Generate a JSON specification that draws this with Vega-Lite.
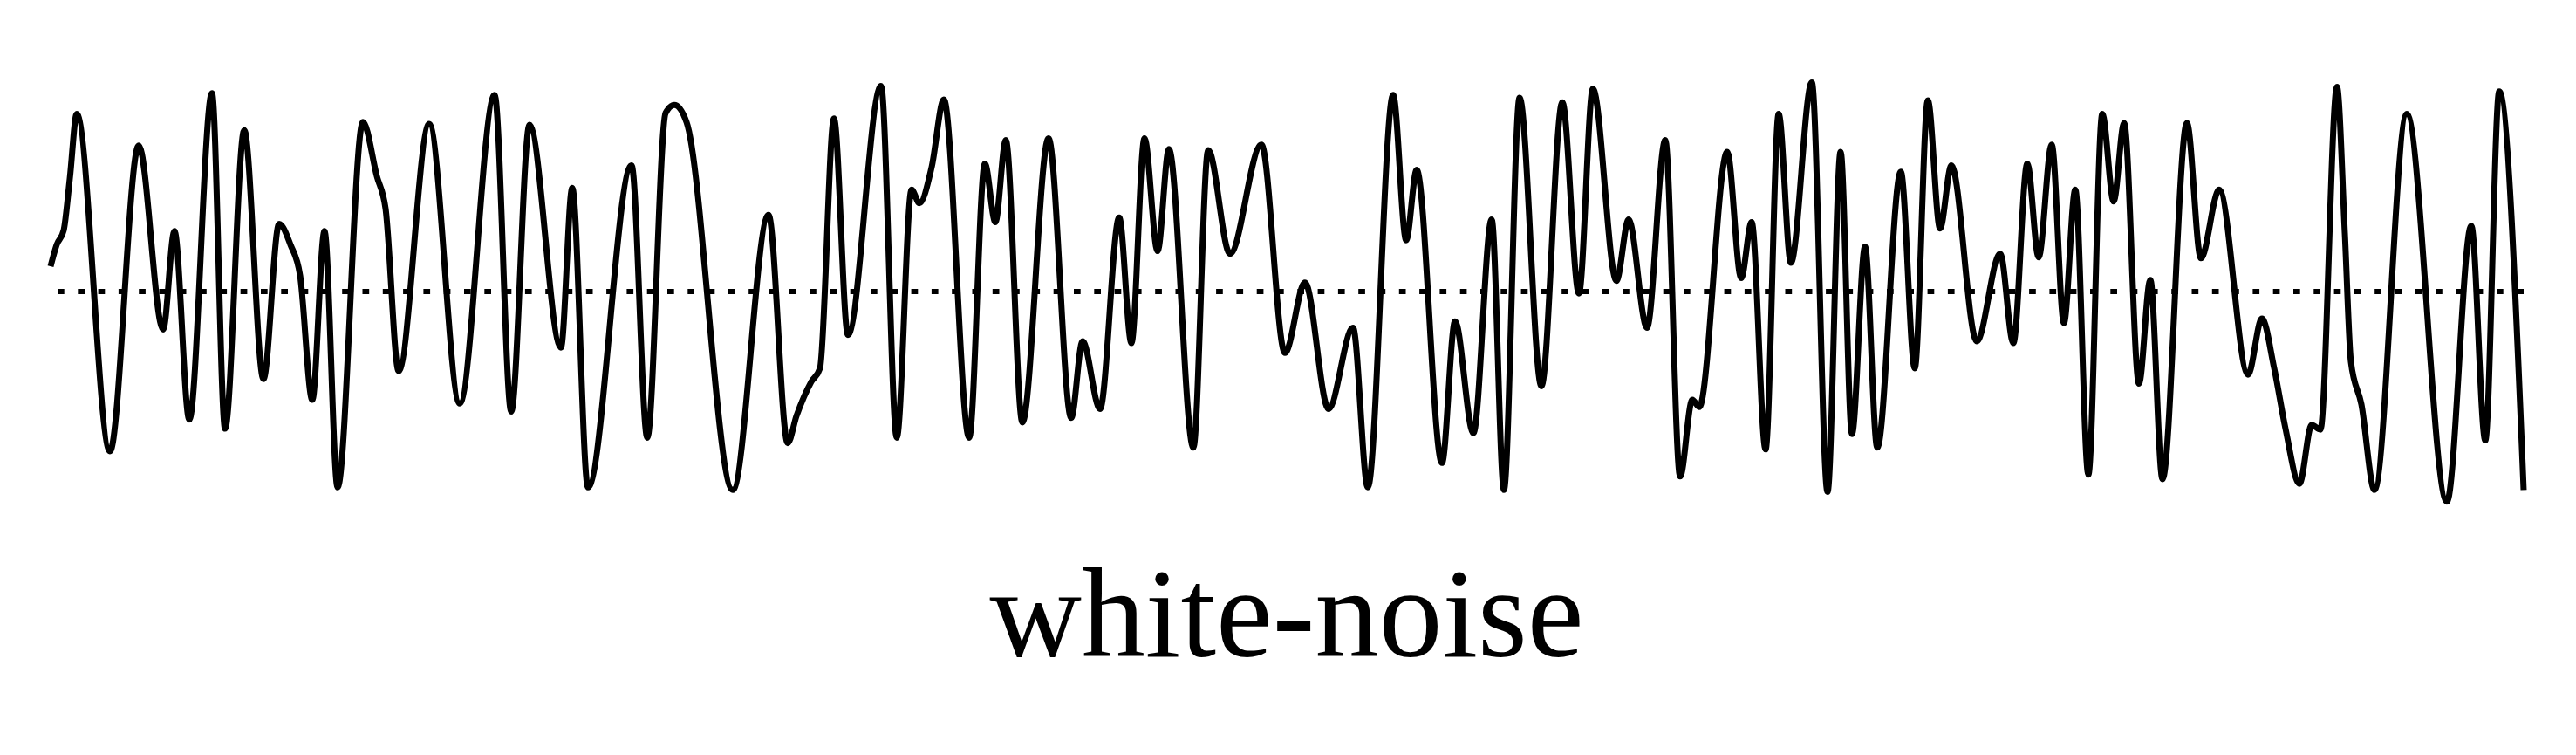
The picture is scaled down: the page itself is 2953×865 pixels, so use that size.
{
  "$schema": "https://vega.github.io/schema/vega-lite/v6.json",
  "width": 2836,
  "height": 540,
  "autosize": {"type": "none"},
  "padding": {"left": 57, "top": 60, "right": 60, "bottom": 265},
  "background": "white",
  "config": {"view": {"stroke": null}},
  "title": {"text": "white-noise", "orient": "bottom", "anchor": "middle", "font": "Liberation Serif", "fontSize": 146, "fontWeight": "normal", "color": "black", "baseline": "alphabetic", "offset": 152},
  "layer": [
    {
      "data": {"values": [{"z": 0}]},
      "mark": {"type": "rule", "color": "black", "strokeWidth": 6, "strokeDash": [7.7, 15.6]},
      "encoding": {"y": {"field": "z", "type": "quantitative", "scale": {"domain": [-2.574, 2.653], "nice": false, "zero": false}, "axis": null}}
    },
    {
      "data": {"values": [
        {"t": 1, "v": 0.28}, {"t": 8, "v": 0.52}, {"t": 16, "v": 0.68}, {"t": 23, "v": 1.25}, {"t": 31, "v": 1.97},
        {"t": 69, "v": -1.77}, {"t": 102, "v": 1.62}, {"t": 130, "v": -0.42}, {"t": 143, "v": 0.67}, {"t": 160, "v": -1.42},
        {"t": 186, "v": 2.2}, {"t": 201, "v": -1.52}, {"t": 223, "v": 1.79}, {"t": 245, "v": -0.97}, {"t": 263, "v": 0.75},
        {"t": 276, "v": 0.52}, {"t": 287, "v": 0.18}, {"t": 301, "v": -1.2}, {"t": 315, "v": 0.67}, {"t": 330, "v": -2.17},
        {"t": 359, "v": 1.88}, {"t": 375, "v": 1.28}, {"t": 385, "v": 0.92}, {"t": 400, "v": -0.88}, {"t": 435, "v": 1.86},
        {"t": 470, "v": -1.24}, {"t": 510, "v": 2.18}, {"t": 529, "v": -1.33}, {"t": 550, "v": 1.85}, {"t": 586, "v": -0.62},
        {"t": 599, "v": 1.15}, {"t": 617, "v": -2.17}, {"t": 667, "v": 1.4}, {"t": 685, "v": -1.62}, {"t": 706, "v": 1.98},
        {"t": 716, "v": 2.07}, {"t": 730, "v": 1.88}, {"t": 783, "v": -2.2}, {"t": 824, "v": 0.85}, {"t": 846, "v": -1.68},
        {"t": 856, "v": -1.38}, {"t": 873, "v": -1.0}, {"t": 883, "v": -0.85}, {"t": 899, "v": 1.92}, {"t": 915, "v": -0.48},
        {"t": 953, "v": 2.28}, {"t": 971, "v": -1.62}, {"t": 988, "v": 1.13}, {"t": 997, "v": 0.98}, {"t": 1011, "v": 1.38},
        {"t": 1025, "v": 2.13}, {"t": 1054, "v": -1.62}, {"t": 1072, "v": 1.42}, {"t": 1084, "v": 0.77}, {"t": 1096, "v": 1.68},
        {"t": 1115, "v": -1.45}, {"t": 1145, "v": 1.7}, {"t": 1171, "v": -1.4}, {"t": 1184, "v": -0.55}, {"t": 1204, "v": -1.3},
        {"t": 1226, "v": 0.82}, {"t": 1240, "v": -0.57}, {"t": 1255, "v": 1.7}, {"t": 1270, "v": 0.45}, {"t": 1283, "v": 1.58},
        {"t": 1311, "v": -1.73}, {"t": 1328, "v": 1.57}, {"t": 1353, "v": 0.42}, {"t": 1389, "v": 1.63}, {"t": 1416, "v": -0.68},
        {"t": 1439, "v": 0.1}, {"t": 1466, "v": -1.3}, {"t": 1494, "v": -0.4}, {"t": 1511, "v": -2.17}, {"t": 1540, "v": 2.18},
        {"t": 1555, "v": 0.57}, {"t": 1567, "v": 1.35}, {"t": 1596, "v": -1.9}, {"t": 1611, "v": -0.33}, {"t": 1632, "v": -1.57},
        {"t": 1653, "v": 0.8}, {"t": 1667, "v": -2.2}, {"t": 1685, "v": 2.15}, {"t": 1710, "v": -1.05}, {"t": 1734, "v": 2.1},
        {"t": 1753, "v": -0.02}, {"t": 1769, "v": 2.25}, {"t": 1796, "v": 0.12}, {"t": 1810, "v": 0.8}, {"t": 1831, "v": -0.4},
        {"t": 1852, "v": 1.68}, {"t": 1869, "v": -2.05}, {"t": 1883, "v": -1.2}, {"t": 1891, "v": -1.28}, {"t": 1923, "v": 1.55},
        {"t": 1939, "v": 0.15}, {"t": 1951, "v": 0.77}, {"t": 1967, "v": -1.75}, {"t": 1982, "v": 1.97}, {"t": 1996, "v": 0.32},
        {"t": 2020, "v": 2.32}, {"t": 2038, "v": -2.22}, {"t": 2053, "v": 1.55}, {"t": 2066, "v": -1.58}, {"t": 2081, "v": 0.5},
        {"t": 2095, "v": -1.73}, {"t": 2122, "v": 1.33}, {"t": 2138, "v": -0.85}, {"t": 2153, "v": 2.12}, {"t": 2167, "v": 0.7},
        {"t": 2180, "v": 1.4}, {"t": 2209, "v": -0.55}, {"t": 2236, "v": 0.42}, {"t": 2251, "v": -0.57}, {"t": 2267, "v": 1.42},
        {"t": 2280, "v": 0.38}, {"t": 2295, "v": 1.63}, {"t": 2309, "v": -0.35}, {"t": 2322, "v": 1.13}, {"t": 2337, "v": -2.03},
        {"t": 2353, "v": 1.97}, {"t": 2366, "v": 1.0}, {"t": 2378, "v": 1.87}, {"t": 2395, "v": -1.02}, {"t": 2408, "v": 0.13},
        {"t": 2422, "v": -2.08}, {"t": 2450, "v": 1.87}, {"t": 2466, "v": 0.37}, {"t": 2487, "v": 1.13}, {"t": 2520, "v": -0.92},
        {"t": 2536, "v": -0.3}, {"t": 2550, "v": -0.85}, {"t": 2563, "v": -1.52}, {"t": 2579, "v": -2.13}, {"t": 2593, "v": -1.48},
        {"t": 2603, "v": -1.53}, {"t": 2622, "v": 2.27}, {"t": 2631, "v": 0.65}, {"t": 2638, "v": -0.78}, {"t": 2650, "v": -1.25},
        {"t": 2665, "v": -2.2}, {"t": 2702, "v": 1.97}, {"t": 2748, "v": -2.33}, {"t": 2776, "v": 0.73}, {"t": 2792, "v": -1.65},
        {"t": 2808, "v": 2.22}, {"t": 2836, "v": -2.2}
      ]},
      "mark": {"type": "line", "color": "black", "strokeWidth": 7, "interpolate": "monotone"},
      "encoding": {
        "x": {"field": "t", "type": "quantitative", "scale": {"domain": [0, 2836], "nice": false, "zero": false}, "axis": null},
        "y": {"field": "v", "type": "quantitative", "scale": {"domain": [-2.574, 2.653], "nice": false, "zero": false}, "axis": null}
      }
    }
  ]
}
